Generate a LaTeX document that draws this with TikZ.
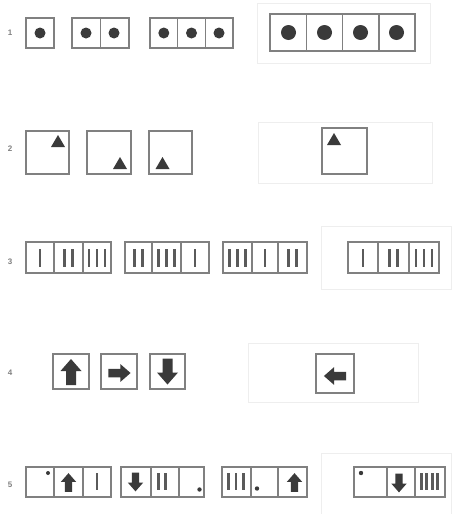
\documentclass[tikz,border=0pt]{standalone}
\usepackage{fontspec}
\setmainfont{Liberation Sans}
\definecolor{boxc}{HTML}{808080}
\definecolor{markc}{HTML}{3A3A3A}
\definecolor{barc}{HTML}{5A5A5A}
\definecolor{faintc}{HTML}{EEEEEE}
\newcommand\mybars[5]{% cx, n, spacing, ytop, length
  \foreach \k in {1,...,#2}{\draw[bar] ({#1+(\k-(#2+1)/2)*#3},#4) -- ++(0,#5);}}
\begin{document}
\begin{tikzpicture}[x=1pt,y=-1pt,
  cell/.style={draw=boxc,line width=1.4pt},
  faint/.style={draw=faintc,line width=0.8pt},
  bar/.style={draw=barc,line width=2.7pt},
  dotm/.style={fill=markc},
  rowlabel/.style={text=gray,font=\fontsize{8}{9}\selectfont\bfseries,inner sep=0pt},
  tri/.pic={\fill[markc] (0,-6) -- (7,6) -- (-7,6) -- cycle;},
  uparrow/.pic={\fill[markc] (0,-13) -- (10.5,-1) -- (5,-1) -- (5,13) -- (-5,13) -- (-5,-1) -- (-10.5,-1) -- cycle;}
]
\useasboundingbox (0,0) rectangle (452,514);
\fill[white] (0,0) rectangle (452,514);

% row labels
\node[rowlabel] (l1) at (10,33) {1};
\node[rowlabel] (l2) at (10,149) {2};
\node[rowlabel] (l3) at (10,262) {3};
\node[rowlabel] (l4) at (10,373) {4};
\node[rowlabel] (l5) at (10,485) {5};

% ---------- row 1
\draw[faint] (257,3) rectangle (430,63);
\draw[cell] (26,18) rectangle (54,48);
\fill[dotm] (40,33) circle (5.5);
\draw[cell] (72,18) rectangle (129,48) (100.5,18) -- (100.5,48);
\fill[dotm] (86,33) circle (5.5) (114,33) circle (5.5);
\draw[cell] (150,18) rectangle (233,48) (177.7,18) -- (177.7,48) (205.3,18) -- (205.3,48);
\fill[dotm] (163.8,33) circle (5.5) (191.5,33) circle (5.5) (219,33) circle (5.5);
\draw[cell] (270,14) rectangle (415,51) (306.3,14) -- (306.3,51) (342.5,14) -- (342.5,51) (378.8,14) -- (378.8,51);
\fill[dotm] (288.5,32.5) circle (7.5) (324.5,32.5) circle (7.5) (360.5,32.5) circle (7.5) (396.5,32.5) circle (7.5);

% ---------- row 2
\draw[faint] (258,122) rectangle (432,183);
\draw[cell] (26,131) rectangle (69,174);
\pic at (58,141) {tri};
\draw[cell] (87,131) rectangle (131,174);
\pic at (120,163) {tri};
\draw[cell] (149,131) rectangle (192,174);
\pic at (162.5,163) {tri};
\draw[cell] (322,128) rectangle (367,174);
\pic at (334,139) {tri};

% ---------- row 3
\draw[faint] (321,226) rectangle (451,289);
\draw[cell] (26,242) rectangle (111,273) (54,242) -- (54,273) (83,242) -- (83,273);
\mybars{40}{1}{8}{249}{18}
\mybars{68.5}{2}{8}{249}{18}
\mybars{97}{3}{8}{249}{18}
\draw[cell] (125,242) rectangle (209,273) (152,242) -- (152,273) (181,242) -- (181,273);
\mybars{138.5}{2}{8}{249}{18}
\mybars{166.5}{3}{8}{249}{18}
\mybars{195}{1}{8}{249}{18}
\draw[cell] (223,242) rectangle (307,273) (252,242) -- (252,273) (278,242) -- (278,273);
\mybars{237.5}{3}{8}{249}{18}
\mybars{265}{1}{8}{249}{18}
\mybars{292.5}{2}{8}{249}{18}
\draw[cell] (348,242) rectangle (439,273) (378,242) -- (378,273) (409,242) -- (409,273);
\mybars{363}{1}{8}{249}{18}
\mybars{393.5}{2}{8}{249}{18}
\mybars{424}{3}{8}{249}{18}

% ---------- row 4
\draw[faint] (248,343) rectangle (418,402);
\draw[cell] (53,354) rectangle (89,389);
\pic at (71,372) {uparrow};
\draw[cell] (101,354) rectangle (137,389);
\pic[rotate=270,scale=0.85] at (119.5,373) {uparrow};
\draw[cell] (150,354) rectangle (185,389);
\pic[rotate=180] at (167.5,371.5) {uparrow};
\draw[cell] (316,354) rectangle (354,393);
\pic[rotate=90,scale=0.85] at (335,376) {uparrow};

% ---------- row 5
\draw[faint] (321,453) rectangle (451,514);
\draw[cell] (26,467) rectangle (111,497) (54,467) -- (54,497) (83,467) -- (83,497);
\fill[dotm] (48,473) circle (2);
\pic[scale=0.72] at (68.5,482.5) {uparrow};
\mybars{97}{1}{7}{473}{17}
\draw[cell] (121,467) rectangle (204,497) (151,467) -- (151,497) (179,467) -- (179,497);
\pic[rotate=180,scale=0.72] at (135.5,482) {uparrow};
\mybars{162}{2}{7}{473}{17}
\fill[dotm] (199.5,489.5) circle (2.2);
\draw[cell] (222,467) rectangle (307,497) (251,467) -- (251,497) (278,467) -- (278,497);
\mybars{236}{3}{7.5}{473}{17}
\fill[dotm] (257,488.5) circle (2.2);
\pic[scale=0.72] at (294.5,482.5) {uparrow};
\draw[cell] (354,467) rectangle (445,497) (387,467) -- (387,497) (415,467) -- (415,497);
\fill[dotm] (361,473) circle (2.2);
\pic[rotate=180,scale=0.72] at (399,483) {uparrow};
\mybars{429.5}{4}{5.5}{473}{17}
\end{tikzpicture}
\end{document}
